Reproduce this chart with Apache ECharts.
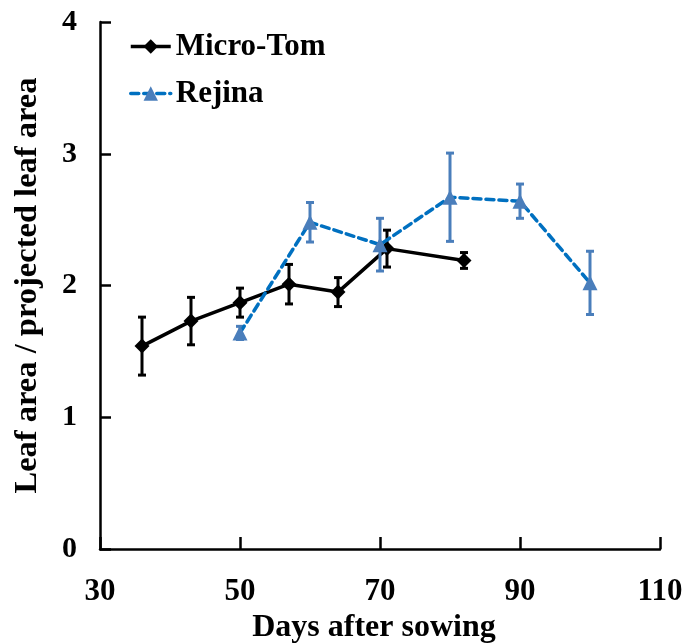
<!DOCTYPE html>
<html>
<head>
<meta charset="utf-8">
<script src="https://cdn.jsdelivr.net/npm/echarts@6/dist/echarts.min.js"></script>
<style>
  html, body { margin: 0; padding: 0; background: #fff; }
  #chart { width: 683px; height: 644px; }
</style>
</head>
<body>
<div id="chart"></div>
<script>
// Leaf area ratio over time for two tomato cultivars
const seriesNames = ['Micro-Tom', 'Rejina'];

const microDays = [36, 43, 50, 57, 64, 71, 82];
const microMean = [1.54, 1.73, 1.87, 2.01, 1.95, 2.28, 2.19];
const microErr  = [0.22, 0.18, 0.11, 0.15, 0.11, 0.14, 0.06];

const rejinaDays = [50, 60, 70, 80, 90, 100];
const rejinaMean = [1.64, 2.48, 2.31, 2.67, 2.64, 2.02];
const rejinaErr  = [0.05, 0.15, 0.20, 0.335, 0.13, 0.24];

const xTicks = [30, 50, 70, 90, 110];
const yTicks = [0, 1, 2, 3, 4];

const FONT = '"Liberation Serif", "Times New Roman", serif';
const BLACK = '#000000';
const BLUE_LINE = '#0070C0';
const BLUE_MARK = '#4A7EBB';

function pairs(xs, ys) { return xs.map((x, i) => [x, ys[i]]); }
function errRows(xs, ys, es) { return xs.map((x, i) => [x, ys[i] - es[i], ys[i] + es[i]]); }

function errorBars(color) {
  return function (params, api) {
    const lo = api.coord([api.value(0), api.value(1)]);
    const hi = api.coord([api.value(0), api.value(2)]);
    const cap = 4;
    const style = { stroke: color, lineWidth: 3, fill: null };
    return {
      type: 'group',
      children: [
        { type: 'line', shape: { x1: lo[0], y1: lo[1], x2: hi[0], y2: hi[1] }, style },
        { type: 'line', shape: { x1: lo[0] - cap, y1: lo[1], x2: lo[0] + cap, y2: lo[1] }, style },
        { type: 'line', shape: { x1: hi[0] - cap, y1: hi[1], x2: hi[0] + cap, y2: hi[1] }, style }
      ]
    };
  };
}

const chart = echarts.init(document.getElementById('chart'), null, { renderer: 'canvas' });

chart.setOption({
  animation: false,
  backgroundColor: '#ffffff',
  grid: { left: 100, right: 23, top: 22, bottom: 95, containLabel: false, outerBoundsMode: 'none' },
  legend: {
    data: seriesNames,
    orient: 'vertical',
    left: 124,
    top: 26,
    itemWidth: 40,
    itemHeight: 18,
    itemGap: 16,
    lineStyle: { width: 3.5 },
    textStyle: { fontFamily: FONT, fontWeight: 'bold', fontSize: 31, color: '#000' }
  },
  xAxis: {
    type: 'value',
    min: xTicks[0],
    max: xTicks[xTicks.length - 1],
    interval: xTicks[1] - xTicks[0],
    name: 'Days after sowing',
    nameLocation: 'middle',
    nameGap: 59,
    nameTextStyle: { fontFamily: FONT, fontWeight: 'bold', fontSize: 32, color: '#000', padding: [0, 12, 0, 0] },
    axisLine: { lineStyle: { color: BLACK, width: 2.5 } },
    axisTick: { inside: true, length: 12, lineStyle: { color: BLACK, width: 2.5 } },
    axisLabel: { margin: 27, fontFamily: FONT, fontWeight: 'bold', fontSize: 31, color: '#000' },
    splitLine: { show: false }
  },
  yAxis: {
    type: 'value',
    min: yTicks[0],
    max: yTicks[yTicks.length - 1],
    interval: yTicks[1] - yTicks[0],
    name: 'Leaf area / projected leaf area',
    nameLocation: 'middle',
    nameGap: 56,
    nameTextStyle: { fontFamily: FONT, fontWeight: 'bold', fontSize: 32.5, color: '#000' },
    axisLine: { show: true, lineStyle: { color: BLACK, width: 2.5 } },
    axisTick: { show: true, inside: true, length: 11, lineStyle: { color: BLACK, width: 2.5 } },
    axisLabel: { margin: 23, fontFamily: FONT, fontWeight: 'bold', fontSize: 30, color: '#000' },
    splitLine: { show: false }
  },
  series: [
    {
      name: 'Micro-Tom error',
      type: 'custom',
      renderItem: errorBars(BLACK),
      data: errRows(microDays, microMean, microErr),
      encode: { x: 0, y: [1, 2] },
      z: 2
    },
    {
      name: 'Micro-Tom',
      type: 'line',
      data: pairs(microDays, microMean),
      symbol: 'diamond',
      symbolSize: 15,
      lineStyle: { color: BLACK, width: 3.5 },
      itemStyle: { color: BLACK },
      z: 3
    },
    {
      name: 'Rejina error',
      type: 'custom',
      renderItem: errorBars(BLUE_MARK),
      data: errRows(rejinaDays, rejinaMean, rejinaErr),
      encode: { x: 0, y: [1, 2] },
      z: 4
    },
    {
      name: 'Rejina',
      type: 'line',
      data: pairs(rejinaDays, rejinaMean),
      symbol: 'triangle',
      symbolSize: 15,
      lineStyle: { color: BLUE_LINE, width: 3.5, type: [8, 5], cap: 'round' },
      itemStyle: { color: BLUE_MARK },
      z: 5
    }
  ]
});
</script>
</body>
</html>
